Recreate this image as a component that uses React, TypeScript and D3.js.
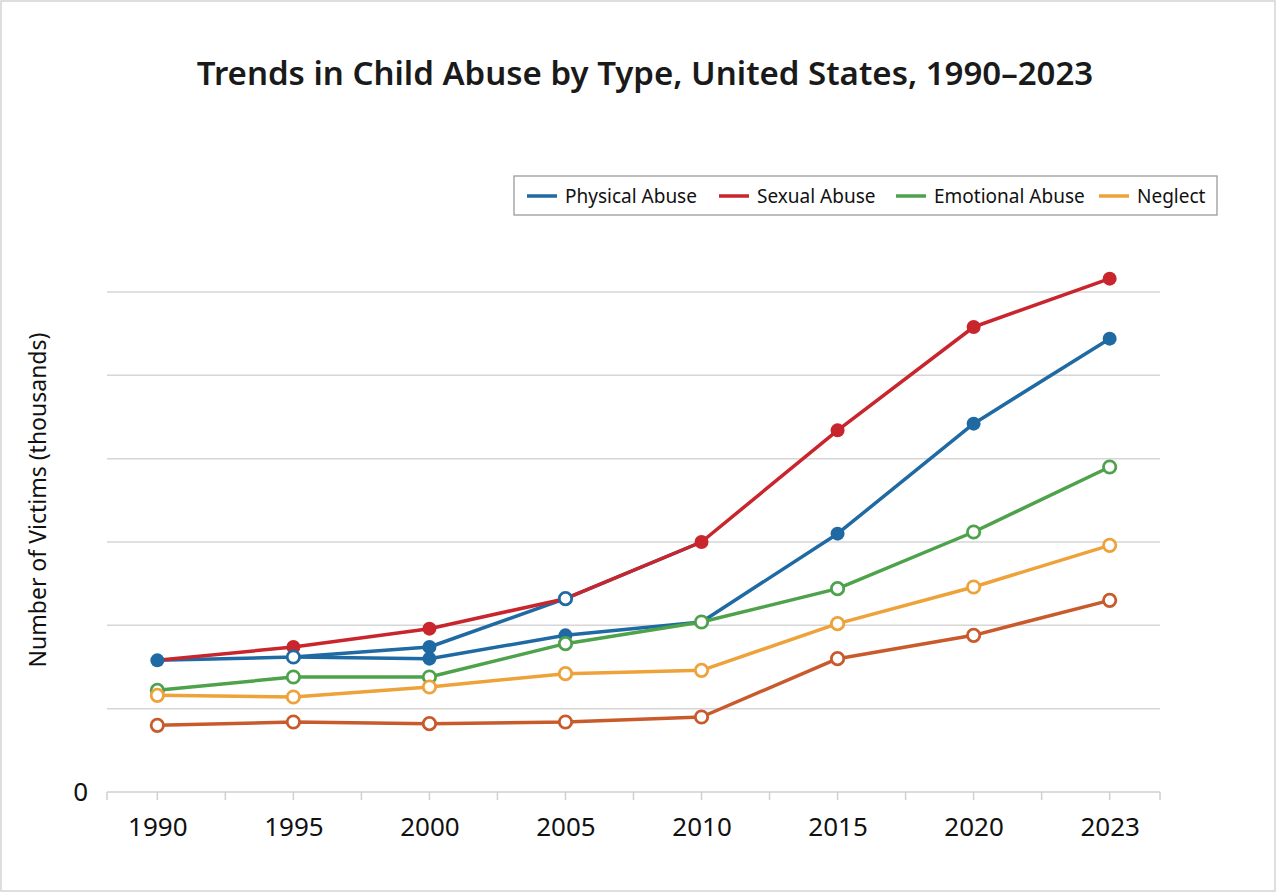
import React, { useEffect, useRef } from 'react'
import * as d3 from 'd3'

const years = ['1990', '1995', '2000', '2005', '2010', '2015', '2020', '2023']

// values in thousands
const physicalUpper = [79, 81, 87, 116, 150, null, null, null]
const physicalLower = [null, 81, 80, 94, 102, 155, 221, 272]
const sexual = [79, 87, 98, 116, 150, 217, 279, 308]
const emotional = [61, 69, 69, 89, 102, 122, 156, 195]
const neglect = [58, 57, 63, 71, 73, 101, 123, 148]
const other = [40, 42, 41, 42, 45, 80, 94, 115]

// marker style per point: 'f' filled, 'o' open, '' none
const physicalUpperMarks = ['f', 'o', 'f', 'o', '', '', '', '']
const physicalLowerMarks = ['', '', 'f', 'f', '', 'f', 'f', 'f']
const sexualMarks = ['', 'f', 'f', '', 'f', 'f', 'f', 'f']
const openMarks = ['o', 'o', 'o', 'o', 'o', 'o', 'o', 'o']

const yTicks = [0, 50, 100, 150, 200, 250, 300]
const legendItems = ['Physical Abuse', 'Sexual Abuse', 'Emotional Abuse', 'Neglect']

const BLUE = '#1f6aa3', RED = '#c9252d', GREEN = '#4ea24b', ORANGE = '#eea23a', BROWN = '#c85a2c'

export default function App() {
  const ref = useRef<SVGSVGElement | null>(null)

  useEffect(() => {
    if (!ref.current) return
    const svg = d3.select(ref.current)
    svg.selectAll('*').remove()
    const width = 1280, height = 896
    const font = '"Noto Sans", sans-serif'

    svg.append('rect').attr('x', 1).attr('y', 1).attr('width', width - 6).attr('height', height - 6)
      .attr('fill', '#fff').attr('stroke', '#d4d4d4').attr('stroke-width', 1.5)

    const left = 107, right = 1160, top = 292, bottom = 792
    const x = d3.scalePoint<string>().domain(years).range([left, right]).padding(0.37)
    const y = d3.scaleLinear().domain([0, 300]).range([bottom, top])

    // gridlines
    svg.append('g').selectAll('line').data(yTicks.slice(1)).enter().append('line')
      .attr('x1', left).attr('x2', right).attr('y1', d => y(d)).attr('y2', d => y(d))
      .attr('stroke', '#d6d6d6').attr('stroke-width', 1.5)

    // x axis
    const ax = svg.append('g').attr('transform', `translate(0,${bottom})`)
      .call(d3.axisBottom(x).tickSize(0).tickPadding(26))
    ax.select('.domain').remove()
    ax.selectAll('text').attr('font-family', font).attr('font-size', 26).attr('fill', '#111')
    svg.append('line').attr('x1', left).attr('x2', right).attr('y1', bottom).attr('y2', bottom)
      .attr('stroke', '#cfcfcf').attr('stroke-width', 1.5)
    const step = x.step()
    const tickXs: number[] = [left, right]
    years.forEach((yr, i) => {
      tickXs.push(x(yr)!)
      if (i < years.length - 1) tickXs.push(x(yr)! + step / 2)
    })
    svg.append('g').selectAll('line').data(tickXs).enter().append('line')
      .attr('x1', d => d).attr('x2', d => d).attr('y1', bottom).attr('y2', bottom + 8)
      .attr('stroke', '#cfcfcf').attr('stroke-width', 1.5)

    svg.append('text').attr('x', 88).attr('y', y(0)).attr('dy', '0.35em').attr('text-anchor', 'end')
      .attr('font-family', font).attr('font-size', 26).attr('fill', '#111').text('0')

    svg.append('text').attr('transform', `translate(46,500) rotate(-90)`).attr('text-anchor', 'middle')
      .attr('font-family', font).attr('font-size', 23).attr('fill', '#111').text('Number of Victims (thousands)')

    svg.append('text').attr('x', 645).attr('y', 85).attr('text-anchor', 'middle')
      .attr('font-family', font).attr('font-size', 33).attr('font-weight', 600).attr('fill', '#1a1a1a')
      .text('Trends in Child Abuse by Type, United States, 1990–2023')

    // lines
    const line = d3.line<number | null>()
      .defined(d => d !== null)
      .x((_, i) => x(years[i])!)
      .y(d => y(d as number))

    const series = [
      { data: physicalUpper, color: BLUE, marks: physicalUpperMarks },
      { data: physicalLower, color: BLUE, marks: physicalLowerMarks },
      { data: sexual, color: RED, marks: sexualMarks },
      { data: emotional, color: GREEN, marks: openMarks },
      { data: neglect, color: ORANGE, marks: openMarks },
      { data: other, color: BROWN, marks: openMarks },
    ]
    series.forEach(s => {
      svg.append('path').attr('d', line(s.data)).attr('fill', 'none')
        .attr('stroke', s.color).attr('stroke-width', 3.5).attr('stroke-linejoin', 'round')
    })
    const markOrder = [series[2], series[0], series[1], series[3], series[4], series[5]]
    markOrder.forEach(s => {
      s.data.forEach((v, i) => {
        if (v === null || !s.marks[i]) return
        const filled = s.marks[i] === 'f'
        svg.append('circle').attr('cx', x(years[i])!).attr('cy', y(v))
          .attr('r', filled ? 7 : 6.2)
          .attr('fill', filled ? s.color : '#fff')
          .attr('stroke', s.color).attr('stroke-width', filled ? 0 : 2.8)
      })
    })

    // legend
    const lg = svg.append('g')
    lg.append('rect').attr('x', 514).attr('y', 176).attr('width', 703).attr('height', 39)
      .attr('fill', '#fff').attr('stroke', '#9a9a9a').attr('stroke-width', 1.3)
    const legendColors = [BLUE, RED, GREEN, ORANGE]
    const legendX = [527, 719, 896, 1099]
    legendItems.forEach((name, i) => {
      lg.append('line').attr('x1', legendX[i]).attr('x2', legendX[i] + 30).attr('y1', 196).attr('y2', 196)
        .attr('stroke', legendColors[i]).attr('stroke-width', 3.5)
      lg.append('text').attr('x', legendX[i] + 38).attr('y', 196).attr('dy', '0.35em')
        .attr('font-family', font).attr('font-size', 19).attr('fill', '#111').text(name)
    })
  }, [])

  return (
    <div style={{ position: 'absolute', left: 0, top: 0 }}>
      <svg ref={ref} width={1280} height={896} style={{ display: 'block' }} />
    </div>
  )
}
